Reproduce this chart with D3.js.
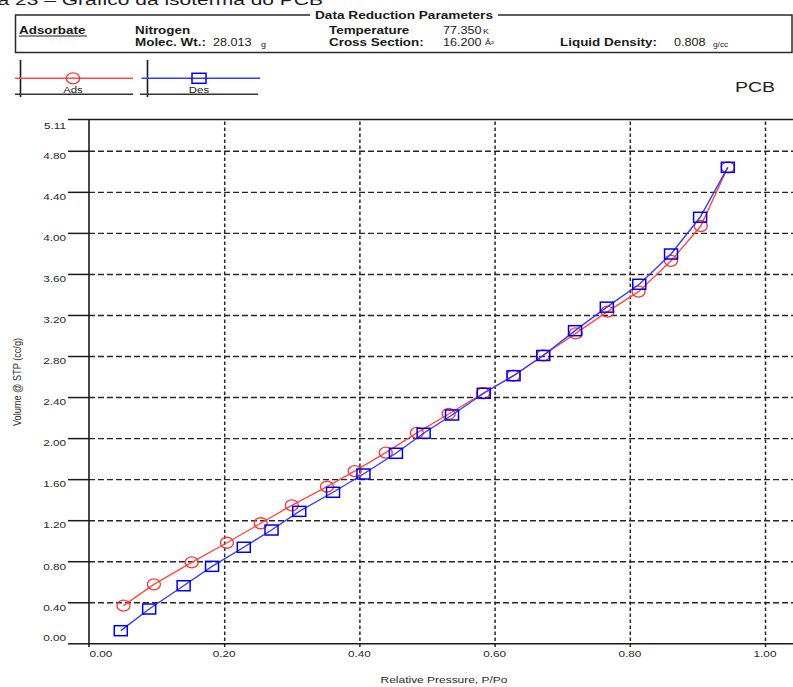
<!DOCTYPE html>
<html>
<head>
<meta charset="utf-8">
<script src="https://cdn.jsdelivr.net/npm/d3@7"></script>
<style>
  html, body { margin: 0; padding: 0; background: #fff; }
  svg { display: block; font-family: "Liberation Sans", Arial, sans-serif; }
</style>
</head>
<body>
<svg id="chart" width="793" height="687"></svg>
<script>
// Nitrogen isotherm of PCB: adsorption and desorption branches
const adsPressure = [0.051, 0.096, 0.152, 0.204, 0.254, 0.300, 0.352, 0.393, 0.439, 0.485,
                     0.532, 0.583, 0.628, 0.672, 0.720, 0.767, 0.813, 0.861, 0.905, 0.945];
const adsVolume   = [0.367, 0.575, 0.789, 0.980, 1.170, 1.345, 1.526, 1.679, 1.858, 2.050,
                     2.235, 2.437, 2.608, 2.807, 3.021, 3.232, 3.427, 3.728, 4.067, 4.639];

const desPressure = [0.945, 0.904, 0.861, 0.814, 0.766, 0.719, 0.672, 0.628, 0.584, 0.537,
                     0.495, 0.454, 0.406, 0.361, 0.311, 0.270, 0.229, 0.182, 0.140, 0.089, 0.047];
const desVolume   = [4.639, 4.152, 3.794, 3.499, 3.276, 3.047, 2.805, 2.608, 2.437, 2.225,
                     2.047, 1.852, 1.650, 1.472, 1.286, 1.104, 0.936, 0.750, 0.561, 0.334, 0.123];

const xTicks = [0.00, 0.20, 0.40, 0.60, 0.80, 1.00];
const yTicks = [0.00, 0.40, 0.80, 1.20, 1.60, 2.00, 2.40, 2.80, 3.20, 3.60, 4.00, 4.40, 4.80, 5.11];

const W = 793, H = 687;
const svg = d3.select("#chart");

const x = d3.scaleLinear().domain([0, 1]).range([89, 765]);
const y = d3.scaleLinear().domain([0, 5.11]).range([643.3, 119]);
const plotRight = W;
const tickLeft = 68;

// horizontally stretched text helper
function stext(parent, px, py, str, size, opts = {}) {
  const sx = opts.sx || 1.2;
  return parent.append("text")
    .attr("transform", `translate(${px},${py}) scale(${sx},1)`)
    .attr("font-size", size)
    .attr("font-weight", opts.bold ? "bold" : "normal")
    .attr("text-anchor", opts.anchor || "start")
    .attr("fill", opts.fill || "#1a1a1a")
    .text(str);
}

// ---- page caption (runs off the top edge) ----
stext(svg, 323, 5, "Figura 23 – Gráfico da isoterma do PCB", 15, { anchor: "end", sx: 1.4 });

// ---- parameter box ----
const hdr = svg.append("g");
hdr.append("rect").attr("x", 15.5).attr("y", 15).attr("width", 776.5).attr("height", 37.5)
  .attr("fill", "none").attr("stroke", "#2a2a2a").attr("stroke-width", 1.5);
hdr.append("rect").attr("x", 310).attr("y", 10).attr("width", 188).attr("height", 10).attr("fill", "#fff");
stext(hdr, 404, 18.5, "Data Reduction Parameters", 10.5, { bold: true, anchor: "middle", sx: 1.3 });

const HS = 1.28, NS = 1.2;
stext(hdr, 19, 34, "Adsorbate", 10.5, { bold: true, sx: HS });
hdr.append("line").attr("x1", 19).attr("x2", 87).attr("y1", 36).attr("y2", 36)
  .attr("stroke", "#1a1a1a").attr("stroke-width", 1);
stext(hdr, 135, 34, "Nitrogen", 10.5, { bold: true, sx: HS });
stext(hdr, 135, 46, "Molec. Wt.:", 10.5, { bold: true, sx: HS });
stext(hdr, 213, 46, "28.013", 10.5, { sx: NS });
stext(hdr, 261, 47, "g", 7, { sx: HS });
stext(hdr, 329, 34, "Temperature", 10.5, { bold: true, sx: HS });
stext(hdr, 329, 46, "Cross Section:", 10.5, { bold: true, sx: HS });
stext(hdr, 443, 34, "77.350", 10.5, { sx: NS });
stext(hdr, 483, 34, "K", 7, { sx: HS });
stext(hdr, 443, 46, "16.200", 10.5, { sx: NS });
stext(hdr, 485, 45, "Å²", 7, { sx: HS });
stext(hdr, 560, 46, "Liquid Density:", 10.5, { bold: true, sx: HS });
stext(hdr, 674, 46, "0.808", 10.5, { sx: NS });
stext(hdr, 713, 47, "g/cc", 6.5, { sx: HS });

// ---- legend ----
const legendItems = [
  { label: "Ads", color: "#ff4a4a", mark: "#ff3333", x0: 15, x1: 133, bar: 20.5, base: 15, cx: 73, shape: "circle" },
  { label: "Des", color: "#3a3aff", mark: "#0000ee", x0: 141.5, x1: 260, bar: 147.5, base: 140, cx: 199, shape: "square" }
];
legendItems.forEach(d => {
  const g = svg.append("g");
  g.append("line").attr("x1", d.bar).attr("x2", d.bar).attr("y1", 60).attr("y2", 97)
    .attr("stroke", "#1a1a1a").attr("stroke-width", 1.6);
  g.append("line").attr("x1", d.base).attr("x2", d.x1 + (d.shape === "square" ? -2 : 0)).attr("y1", 94.3).attr("y2", 94.3)
    .attr("stroke", "#333").attr("stroke-width", 1.4);
  g.append("line").attr("x1", d.x0).attr("x2", d.x1).attr("y1", 78.3).attr("y2", 78.3)
    .attr("stroke", d.color).attr("stroke-width", 1.4);
  if (d.shape === "circle") {
    g.append("ellipse").attr("cx", d.cx).attr("cy", 78.3).attr("rx", 6.7).attr("ry", 5.5)
      .attr("fill", "none").attr("stroke", d.mark).attr("stroke-width", 1.3);
  } else {
    g.append("rect").attr("x", d.cx - 7).attr("y", 73.3).attr("width", 14).attr("height", 10)
      .attr("fill", "none").attr("stroke", d.mark).attr("stroke-width", 1.5);
  }
  stext(g, d.cx, 92.5, d.label, 9.5, { anchor: "middle", sx: 1.2 });
});

stext(svg, 735, 92, "PCB", 15, { sx: 1.3, fill: "#222" });

// ---- axes and grid ----
const innerY = yTicks.filter(v => v > 0 && v < 5.11);
const edgeY = [0, 5.11];

// dashed horizontal grid
svg.append("g").attr("transform", `translate(${x(0)},0)`)
  .call(d3.axisRight(y).tickValues(innerY).tickSize(plotRight - x(0)).tickFormat(""))
  .call(g => g.select(".domain").remove())
  .call(g => g.selectAll("line").attr("stroke", "#262626").attr("stroke-width", 1.4).attr("stroke-dasharray", "6,3"));

// dashed vertical grid
const innerX = xTicks.filter(v => v > 0);
svg.append("g").attr("transform", "translate(0,647)")
  .call(d3.axisBottom(x).tickValues(innerX).tickSize(-(647 - y(5.11))).tickFormat(""))
  .call(g => g.select(".domain").remove())
  .call(g => g.selectAll("line").attr("stroke", "#262626").attr("stroke-width", 1.5).attr("stroke-dasharray", "3.5,2.5"));

// short solid ticks left of the value axis
svg.append("g").attr("transform", `translate(${x(0)},0)`)
  .call(d3.axisLeft(y).tickValues(yTicks).tickSize(x(0) - tickLeft).tickFormat(""))
  .call(g => g.select(".domain").remove())
  .call(g => g.selectAll("line").attr("stroke", "#1a1a1a").attr("stroke-width", 1.5));

// solid top border and base line
svg.append("g").attr("transform", `translate(${x(0)},0)`)
  .call(d3.axisRight(y).tickValues(edgeY).tickSize(plotRight - x(0)).tickFormat(""))
  .call(g => g.select(".domain").remove())
  .call(g => g.selectAll("line").attr("stroke", "#1a1a1a").attr("stroke-width", 1.5));

// value axis line
svg.append("line").attr("x1", x(0)).attr("x2", x(0)).attr("y1", y(5.11)).attr("y2", 647)
  .attr("stroke", "#1a1a1a").attr("stroke-width", 1.6);

// y tick labels
const yl = svg.append("g");
yTicks.forEach((v, i) => {
  let off = 8.3;
  if (i === 0) off = -2;
  if (i === yTicks.length - 1) off = 10;
  stext(yl, 66, y(v) + off, v.toFixed(2), 9.8, { anchor: "end", sx: 1.2, fill: "#2a2a2a" });
});

// x tick labels
const xl = svg.append("g");
xTicks.forEach((v, i) => {
  if (i === 0) stext(xl, x(v) + 0.5, 657, v.toFixed(2), 9.8, { anchor: "start", sx: 1.2, fill: "#2a2a2a" });
  else stext(xl, x(v), 657, v.toFixed(2), 9.8, { anchor: "middle", sx: 1.2, fill: "#2a2a2a" });
});

// axis titles
stext(svg, 444, 683, "Relative Pressure, P/Po", 9.8, { anchor: "middle", sx: 1.22, fill: "#2a2a2a" });
svg.append("text")
  .attr("transform", "translate(21,382) rotate(-90) scale(1.08,1.2)")
  .attr("font-size", 8.5).attr("text-anchor", "middle").attr("fill", "#2a2a2a")
  .text("Volume @ STP (cc/g)");

// ---- series ----
const ads = adsPressure.map((p, i) => ({ p, v: adsVolume[i] }));
const des = desPressure.map((p, i) => ({ p, v: desVolume[i] }));
const line = d3.line().x(d => x(d.p)).y(d => y(d.v));

svg.append("path").datum(ads).attr("d", line)
  .attr("fill", "none").attr("stroke", "#ff4a4a").attr("stroke-width", 1.4);
svg.append("g").selectAll("ellipse").data(ads).join("ellipse")
  .attr("cx", d => x(d.p)).attr("cy", d => y(d.v)).attr("rx", 6.5).attr("ry", 5.5)
  .attr("fill", "none").attr("stroke", "#ff3333").attr("stroke-width", 1.3);

svg.append("path").datum(des).attr("d", line)
  .attr("fill", "none").attr("stroke", "#3a3aff").attr("stroke-width", 1.4);
svg.append("g").selectAll("rect").data(des).join("rect")
  .attr("x", d => x(d.p) - 6.5).attr("y", d => y(d.v) - 5).attr("width", 13).attr("height", 10)
  .attr("fill", "none").attr("stroke", "#0000ee").attr("stroke-width", 1.5);
</script>
</body>
</html>
